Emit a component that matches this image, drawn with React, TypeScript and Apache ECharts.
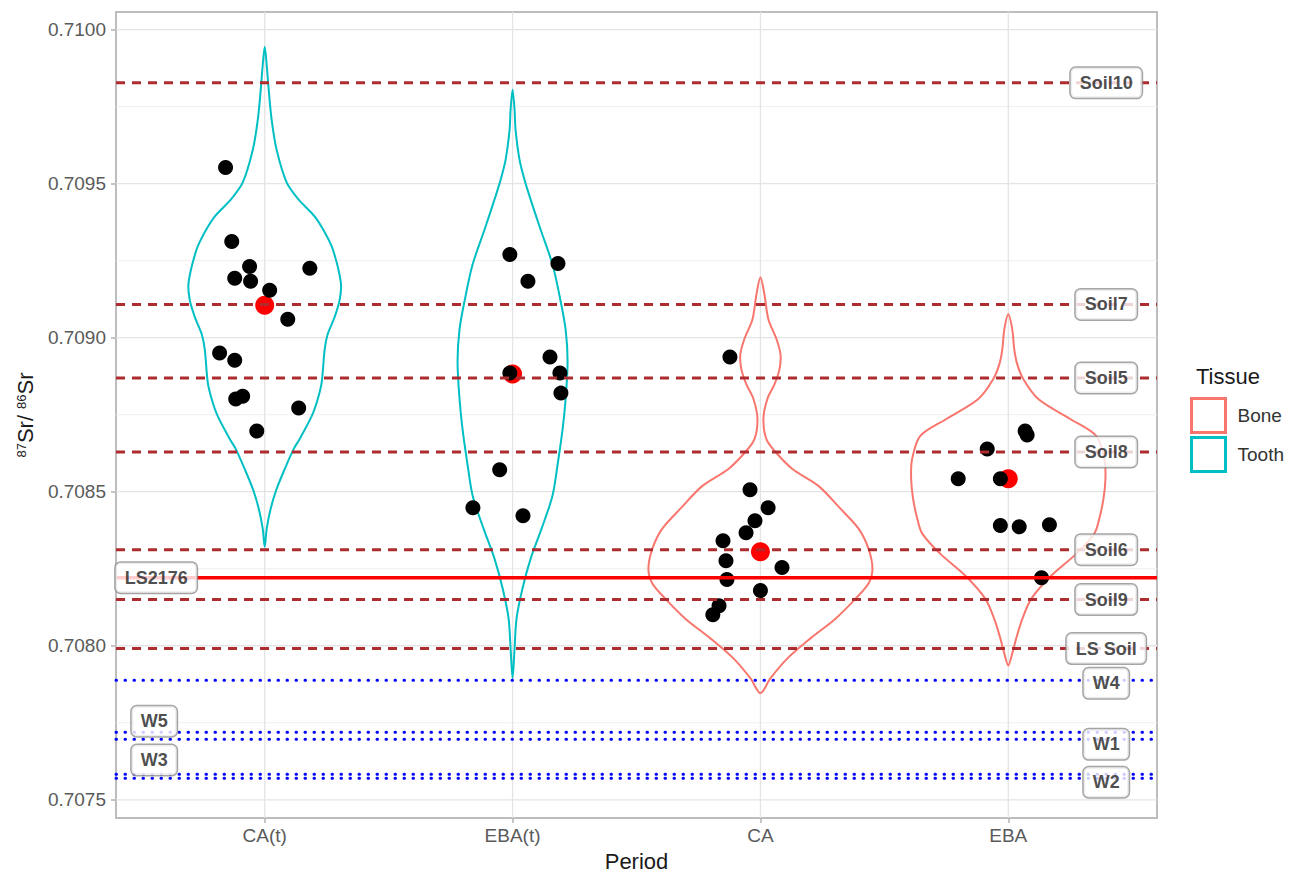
import React, { useEffect, useRef } from 'react';
import * as echarts from 'echarts';

const categories = ['CA(t)', 'EBA(t)', 'CA', 'EBA'];
const tissueOf = ['Tooth', 'Tooth', 'Bone', 'Bone'];
const tissueNames = ['Bone', 'Tooth'];
const tissueColors: Record<string, string> = { Bone: '#F8766D', Tooth: '#00BFC4' };

// Violin outlines: 87Sr/86Sr value and half width (category units)
const violinCAtVals = [0.709944, 0.709885, 0.709805, 0.709707, 0.70961, 0.709503, 0.709448, 0.709393, 0.709342, 0.709286, 0.70918, 0.709125, 0.709069, 0.709011, 0.708963, 0.708856, 0.708801, 0.708746, 0.708671, 0.708639, 0.708574, 0.708509, 0.708445, 0.70838, 0.708321];
const violinCAtWidth = [0, 0.008, 0.016, 0.028, 0.048, 0.089, 0.137, 0.202, 0.242, 0.275, 0.307, 0.303, 0.283, 0.254, 0.242, 0.23, 0.214, 0.19, 0.141, 0.117, 0.081, 0.048, 0.024, 0.008, 0];
const violinEBAtVals = [0.709805, 0.70974, 0.709675, 0.709578, 0.709513, 0.709448, 0.709351, 0.709238, 0.709134, 0.709027, 0.708921, 0.708801, 0.708704, 0.70859, 0.708487, 0.70838, 0.708283, 0.708186, 0.708088, 0.707991, 0.707894];
const violinEBAtWidth = [0, 0.008, 0.012, 0.028, 0.048, 0.073, 0.113, 0.161, 0.19, 0.214, 0.222, 0.214, 0.202, 0.182, 0.161, 0.117, 0.073, 0.04, 0.016, 0.008, 0];
const violinCAVals = [0.709196, 0.709141, 0.70906, 0.708995, 0.708946, 0.708898, 0.708849, 0.708801, 0.708736, 0.708671, 0.708629, 0.708574, 0.708519, 0.708445, 0.70838, 0.708315, 0.70825, 0.708202, 0.708153, 0.708088, 0.708024, 0.707959, 0.707894, 0.707846];
const violinCAWidth = [0, 0.016, 0.032, 0.065, 0.081, 0.077, 0.057, 0.028, 0.012, 0.024, 0.061, 0.129, 0.234, 0.323, 0.396, 0.436, 0.452, 0.436, 0.384, 0.303, 0.202, 0.109, 0.04, 0];
const violinEBAVals = [0.709076, 0.709027, 0.708963, 0.708914, 0.708865, 0.708801, 0.708736, 0.708681, 0.708606, 0.708542, 0.708477, 0.708412, 0.708364, 0.708299, 0.708228, 0.708153, 0.708088, 0.708024, 0.707975, 0.707936];
const violinEBAWidth = [0, 0.016, 0.024, 0.036, 0.061, 0.121, 0.25, 0.355, 0.388, 0.392, 0.384, 0.367, 0.347, 0.275, 0.174, 0.093, 0.057, 0.032, 0.016, 0];

// Individual samples: jittered x position and 87Sr/86Sr value
const caTX = [0.842, 0.867, 0.939, 0.879, 0.943, 1.182, 1.02, 1.093, 0.818, 0.879, 0.883, 0.911, 1.137, 0.968];
const caTY = [0.709552, 0.709312, 0.709231, 0.709193, 0.709183, 0.709225, 0.709154, 0.70906, 0.70895, 0.708927, 0.708801, 0.70881, 0.708772, 0.708697];
const ebaTX = [1.989, 2.183, 2.062, 2.151, 1.989, 2.191, 2.195, 1.948, 1.84, 2.042];
const ebaTY = [0.70927, 0.709241, 0.709183, 0.708937, 0.708885, 0.708885, 0.70882, 0.708571, 0.708448, 0.708422];
const caX = [2.877, 2.958, 3.031, 2.978, 2.942, 2.849, 2.861, 3.087, 2.865, 3.0, 2.833, 2.808];
const caY = [0.708937, 0.708506, 0.708448, 0.708406, 0.708367, 0.708341, 0.708276, 0.708254, 0.708215, 0.708179, 0.70813, 0.708101];
const ebaX = [4.068, 4.076, 3.915, 3.798, 3.968, 3.968, 4.044, 4.166, 4.134];
const ebaY = [0.708697, 0.708684, 0.708639, 0.708542, 0.708542, 0.70839, 0.708386, 0.708393, 0.708221];

// Group medians (red points)
const medians = [0.709105, 0.708882, 0.708305, 0.708542];

// Reference lines
const refNames = ['Soil10', 'Soil7', 'Soil5', 'Soil8', 'Soil6', 'LS2176', 'Soil9', 'LS Soil', 'W4', 'W5', 'W1', 'W3', 'W2'];
const refValues = [0.709827, 0.709108, 0.708869, 0.708629, 0.708312, 0.708221, 0.70815, 0.707991, 0.707888, 0.707719, 0.707697, 0.707583, 0.70757];
const refKinds = ['soil', 'soil', 'soil', 'soil', 'soil', 'rock', 'soil', 'soil', 'water', 'water', 'water', 'water', 'water'];
const refLabelX = [4.395, 4.395, 4.395, 4.395, 4.395, 0.562, 4.395, 4.395, 4.395, 0.554, 4.395, 0.554, 4.395];
const refLabelY = [0.709827, 0.709108, 0.708869, 0.708629, 0.708312, 0.708221, 0.70815, 0.707991, 0.707878, 0.707755, 0.70768, 0.707629, 0.707557];

// Axes
const xMin = 0.4;
const xMax = 4.6;
const yMin = 0.707441;
const yMax = 0.710057;
const yTicks = [0.7075, 0.708, 0.7085, 0.709, 0.7095, 0.71];
const yMinor = [0.70775, 0.70825, 0.70875, 0.70925, 0.70975];
const xTicks = [1, 2, 3, 4];

const profiles = [
  { vals: violinCAtVals, w: violinCAtWidth },
  { vals: violinEBAtVals, w: violinEBAtWidth },
  { vals: violinCAVals, w: violinCAWidth },
  { vals: violinEBAVals, w: violinEBAWidth },
];

const FONT = 'Liberation Sans, Arial, sans-serif';

export default function App() {
  const ref = useRef<HTMLDivElement>(null);
  useEffect(() => {
    if (!ref.current) return;
    const chart = echarts.init(ref.current, undefined, { renderer: 'svg' });

    const styleFor = (kind: string): any => {
      if (kind === 'soil') return { stroke: '#AE2B2F', lineWidth: 3, lineDash: [9, 7] };
      if (kind === 'rock') return { stroke: '#FF0000', lineWidth: 3.5 };
      if (kind === 'water') return { stroke: '#0000FF', lineWidth: 3, lineDash: [0.5, 8.5], lineCap: 'round' };
      if (kind === 'major') return { stroke: '#E4E4E4', lineWidth: 1.3 };
      return { stroke: '#EFEFEF', lineWidth: 1 };
    };

    const segRender = (kinds: string[]) => (params: any, api: any) => {
      const a = api.coord([api.value(0), api.value(1)]);
      const b = api.coord([api.value(2), api.value(3)]);
      const kind = kinds[api.value(4)];
      return {
        type: 'line',
        shape: { x1: a[0], y1: a[1], x2: b[0], y2: b[1] },
        style: styleFor(kind),
      };
    };

    const gridKinds = ['major', 'minor'];
    const gridData = [
      ...yTicks.map((v) => [xMin, v, xMax, v, 0]),
      ...yMinor.map((v) => [xMin, v, xMax, v, 1]),
      ...xTicks.map((x) => [x, yMin, x, yMax, 0]),
    ];
    const refData = refValues.map((v, i) => [xMin, v, xMax, v, i]);

    const violinSeries = tissueNames.map((t) => ({
      type: 'custom',
      name: t,
      z: 2,
      silent: true,
      data: categories
        .map((c, i) => i)
        .filter((i) => tissueOf[i] === t)
        .map((i) => [i + 1, medians[i], i]),
      encode: { x: 0, y: 1 },
      renderItem: (params: any, api: any) => {
        const cx = api.value(0);
        const idx = api.value(2);
        const p = profiles[idx];
        const right = p.vals.map((v, k) => api.coord([cx + p.w[k], v]));
        const left = p.vals.map((v, k) => api.coord([cx - p.w[k], v])).slice(1, -1).reverse();
        return {
          type: 'polygon',
          shape: { points: right.concat(left), smooth: 0.3 },
          style: { fill: 'none', stroke: tissueColors[t], lineWidth: 2 },
        };
      },
    }));

    const points: number[][] = [];
    [[caTX, caTY], [ebaTX, ebaTY], [caX, caY], [ebaX, ebaY]].forEach(([xs, ys]) => {
      xs.forEach((x, i) => points.push([x, ys[i]]));
    });

    const option: any = {
      animation: false,
      backgroundColor: '#fff',
      grid: {
        left: 116, top: 12, width: 1041, height: 808,
        show: true, borderColor: '#BDBDBD', borderWidth: 2, backgroundColor: '#fff',
      },
      title: {
        text: 'Tissue', left: 1191, top: 360,
        textStyle: { fontSize: 22, fontWeight: 'normal', color: '#1a1a1a', fontFamily: FONT },
      },
      legend: {
        orient: 'vertical', left: 1190, top: 397, itemWidth: 34, itemHeight: 34, itemGap: 2,
        selectedMode: false, padding: 0,
        textStyle: { fontSize: 19, color: '#333', padding: [0, 0, 0, 7], fontFamily: FONT },
        data: tissueNames.map((t) => ({
          name: t, icon: 'rect',
          itemStyle: { color: '#fff', borderColor: tissueColors[t], borderWidth: 3 },
        })),
      },
      xAxis: {
        type: 'value', min: xMin, max: xMax,
        name: 'Period', nameLocation: 'middle', nameGap: 32,
        nameTextStyle: { fontSize: 22, color: '#1a1a1a', fontFamily: FONT },
        axisLine: { show: false },
        splitLine: { show: false },
        axisTick: { show: true, customValues: xTicks, length: 5, lineStyle: { color: '#B3B3B3', width: 1.5 } },
        axisLabel: {
          customValues: xTicks, margin: 8, fontSize: 19, color: '#5a5a5a', fontFamily: FONT,
          formatter: (v: number) => categories[Math.round(v) - 1] ?? '',
        },
      },
      yAxis: {
        type: 'value', min: yMin, max: yMax,
        name: '{sup|87}Sr/ {sup|86}Sr', nameLocation: 'middle', nameGap: 74,
        nameTextStyle: {
          fontSize: 22, color: '#1a1a1a', fontFamily: FONT,
          rich: { sup: { fontSize: 13, verticalAlign: 'top', color: '#1a1a1a', fontFamily: FONT } },
        },
        axisLine: { show: false },
        splitLine: { show: false },
        axisTick: { show: true, customValues: yTicks, length: 5, lineStyle: { color: '#B3B3B3', width: 1.5 } },
        axisLabel: {
          customValues: yTicks, margin: 10, fontSize: 19, color: '#5a5a5a', fontFamily: FONT,
          formatter: (v: number) => v.toFixed(4),
        },
      },
      series: [
        {
          type: 'custom', name: 'grid', z: 1, silent: true,
          data: gridData, encode: { x: [0, 2], y: [1, 3] },
          renderItem: segRender(gridKinds),
        },
        ...violinSeries,
        {
          type: 'scatter', name: 'median', z: 3, silent: true,
          symbolSize: 19, itemStyle: { color: '#FF0000', opacity: 1 },
          data: medians.map((v, i) => [i + 1, v]),
        },
        {
          type: 'scatter', name: 'samples', z: 4, silent: true,
          symbolSize: 15, itemStyle: { color: '#000', opacity: 1 },
          data: points,
        },
        {
          type: 'custom', name: 'reference', z: 5, silent: true,
          data: refData, encode: { x: [0, 2], y: [1, 3] },
          renderItem: segRender(refKinds),
        },
        {
          type: 'scatter', name: 'labels', z: 6, silent: true,
          symbolSize: 1, itemStyle: { color: 'rgba(0,0,0,0)' },
          data: refNames.map((n, i) => ({ name: n, value: [refLabelX[i], refLabelY[i]] })),
          label: {
            show: true, position: 'inside', formatter: '{b}',
            fontSize: 18, fontWeight: 'bold', color: '#1e1e1e', fontFamily: FONT,
            backgroundColor: '#fff', borderColor: '#8f8f8f', borderWidth: 1.5, borderRadius: 5,
            padding: [5, 9, 4, 9], lineHeight: 21,
          },
        },
      ],
    };
    chart.setOption(option);
    return () => chart.dispose();
  }, []);
  return <div ref={ref} style={{ position: 'absolute', left: 0, top: 0, width: 1299, height: 877 }} />;
}
